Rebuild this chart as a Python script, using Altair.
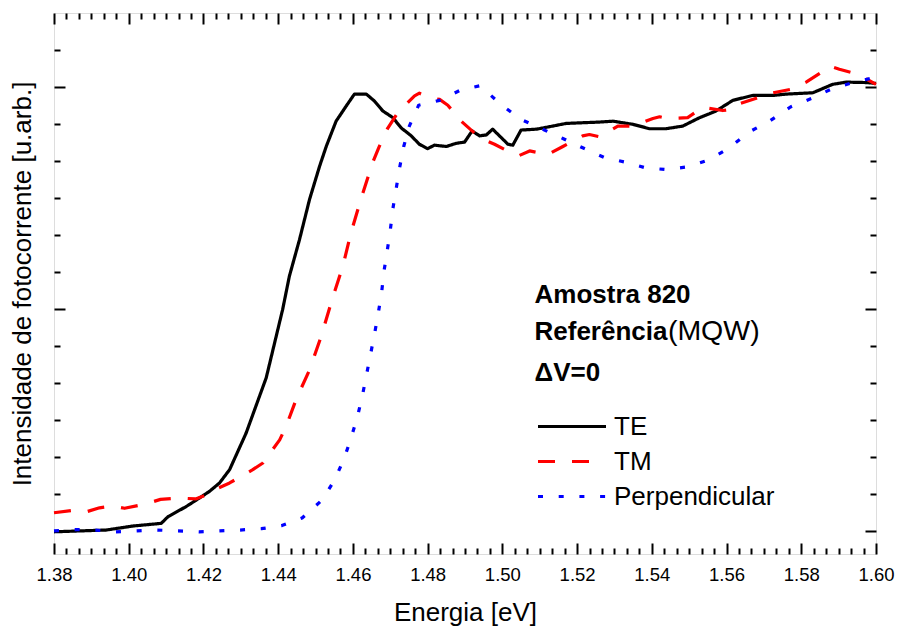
import altair as alt
import pandas as pd

# ---------------- data ----------------
series_names = ["TE", "TM", "Perpendicular"]
series_colors = ["#000000", "#ff0000", "#0000ff"]
series_dash = [[1, 0], [17, 17], [5, 15.7]]

te_E = [1.3800, 1.3940, 1.4011, 1.4087, 1.4105, 1.4154, 1.4189, 1.4216, 1.4243, 1.4270,
        1.4314, 1.4368, 1.4412, 1.4430, 1.4457, 1.4484, 1.4511, 1.4529, 1.4555, 1.4582,
        1.4604, 1.4636, 1.4658, 1.4680, 1.4707, 1.4729, 1.4756, 1.4778, 1.4800, 1.4818,
        1.4850, 1.4876, 1.4899, 1.4919, 1.4939, 1.4957, 1.4974, 1.4997, 1.5015, 1.5028,
        1.5050, 1.5091, 1.5135, 1.5171, 1.5260, 1.5296, 1.5349, 1.5394, 1.5438, 1.5483,
        1.5528, 1.5572, 1.5617, 1.5670, 1.5724, 1.5760, 1.5831, 1.5884, 1.5920, 1.5974,
        1.6000]
te_I = [-0.002, 0.002, 0.011, 0.017, 0.032, 0.055, 0.074, 0.089, 0.108, 0.138,
        0.220, 0.345, 0.499, 0.574, 0.656, 0.747, 0.822, 0.867, 0.923, 0.957,
        0.984, 0.984, 0.968, 0.946, 0.931, 0.908, 0.890, 0.871, 0.861, 0.869,
        0.866, 0.873, 0.876, 0.901, 0.890, 0.892, 0.905, 0.886, 0.871, 0.869,
        0.903, 0.905, 0.912, 0.918, 0.921, 0.923, 0.916, 0.906, 0.906, 0.912,
        0.931, 0.946, 0.970, 0.981, 0.981, 0.984, 0.987, 1.006, 1.011, 1.010,
        1.008]

tm_E = [1.3800, 1.3859, 1.3890, 1.3922, 1.3957, 1.3989, 1.4047, 1.4085, 1.4136, 1.4179,
        1.4207, 1.4230, 1.4270, 1.4332, 1.4359, 1.4404, 1.4421, 1.4448, 1.4484, 1.4515,
        1.4546, 1.4573, 1.4595, 1.4622, 1.4653, 1.4669, 1.4693, 1.4720, 1.4765, 1.4778,
        1.4805, 1.4832, 1.4854, 1.4890, 1.4939, 1.4979, 1.5032, 1.5046, 1.5073, 1.5122,
        1.5162, 1.5215, 1.5233, 1.5260, 1.5309, 1.5349, 1.5403, 1.5421, 1.5443, 1.5496,
        1.5536, 1.5590, 1.5617, 1.5630, 1.5684, 1.5724, 1.5773, 1.5813, 1.5867, 1.5876,
        1.5902, 1.5951, 1.6000]
tm_I = [0.041, 0.047, 0.044, 0.052, 0.056, 0.051, 0.061, 0.071, 0.074, 0.072,
        0.081, 0.093, 0.108, 0.138, 0.153, 0.205, 0.235, 0.296, 0.363, 0.438,
        0.526, 0.596, 0.672, 0.749, 0.830, 0.863, 0.907, 0.942, 0.980, 0.986,
        0.976, 0.972, 0.959, 0.923, 0.886, 0.871, 0.848, 0.846, 0.856, 0.848,
        0.866, 0.890, 0.893, 0.888, 0.912, 0.912, 0.929, 0.933, 0.929, 0.931,
        0.954, 0.947, 0.950, 0.961, 0.976, 0.987, 0.995, 1.011, 1.040, 1.047,
        1.040, 1.029, 1.006]

pp_E = [1.3800, 1.3855, 1.3908, 1.3965, 1.4020, 1.4075, 1.4131, 1.4188, 1.4243, 1.4298,
        1.4355, 1.4410, 1.4464, 1.4518, 1.4551, 1.4576, 1.4595, 1.4612, 1.4625, 1.4636,
        1.4647, 1.4658, 1.4668, 1.4677, 1.4683, 1.4692, 1.4700, 1.4707, 1.4716, 1.4725,
        1.4736, 1.4751, 1.4776, 1.4832, 1.4888, 1.4940, 1.4997, 1.5050, 1.5105, 1.5162,
        1.5215, 1.5273, 1.5327, 1.5383, 1.5438, 1.5495, 1.5550, 1.5606, 1.5661, 1.5715,
        1.5771, 1.5827, 1.5882, 1.5938, 1.6000]
pp_I = [0.000, 0.003, 0.002, -0.002, 0.000, 0.002, 0.000, -0.002, 0.000, 0.002,
        0.005, 0.012, 0.029, 0.070, 0.115, 0.162, 0.209, 0.257, 0.303, 0.350,
        0.397, 0.444, 0.491, 0.538, 0.584, 0.632, 0.677, 0.726, 0.772, 0.818,
        0.866, 0.912, 0.959, 0.970, 0.993, 1.003, 0.960, 0.927, 0.906, 0.884,
        0.863, 0.841, 0.831, 0.818, 0.814, 0.820, 0.835, 0.862, 0.899, 0.923,
        0.955, 0.974, 0.996, 1.010, 1.022]

x_major = [1.38, 1.40, 1.42, 1.44, 1.46, 1.48, 1.50, 1.52, 1.54, 1.56, 1.58, 1.60]
y_major = [0.0, 0.5, 1.0]

# annotation block
ann_bold_text = ["Amostra 820", "Referência", "ΔV=0"]
ann_bold_E = [1.5086, 1.5086, 1.5086]
ann_bold_I = [0.514, 0.429, 0.337]
ann_norm_text = ["(MQW)"]
ann_norm_E = [1.5443]
ann_norm_I = [0.429]

# ---------------- build ----------------
rows = []
for name, es, vs in zip(series_names, [te_E, tm_E, pp_E], [te_I, tm_I, pp_I]):
    assert len(es) == len(vs), name
    for e, v in zip(es, vs):
        rows.append({"Energia": e, "Intensidade": v, "Serie": name})
df = pd.DataFrame(rows)

x_minor = [round(1.38 + i * 0.02 / 6, 6) for i in range(67) if i % 6]
y_minor = [round(i / 12, 6) for i in range(1, 14) if i % 6]

W, H = 822, 541
FONT = "Liberation Sans"

xscale = alt.Scale(domain=[1.38, 1.60], nice=False, zero=False)
yscale = alt.Scale(domain=[-0.052, 1.1667], nice=False, zero=False)


def tick_axis(orient, values, size, offset):
    return alt.Axis(orient=orient, values=values, tickSize=size, tickWidth=2,
                    tickColor="black", labels=False, domain=False, grid=False,
                    title=None, offset=offset)


legend = alt.Legend(title=None, orient="none", legendX=482, legendY=396,
                    symbolType="stroke", symbolSize=4624, symbolStrokeWidth=3.2,
                    labelFontSize=26, labelFont=FONT, labelColor="black",
                    labelOffset=6, labelLimit=400, clipHeight=35, rowPadding=0,
                    padding=0)

x_lab_axis = alt.Axis(orient="bottom", values=x_major, format=".2f", labelFontSize=18.5,
                      labelFont=FONT, labelColor="black", ticks=False, tickSize=0,
                      domain=False, grid=False, labelPadding=11, labelFlush=False,
                      labelOverlap=False, title="Energia [eV]", titleFontSize=26,
                      titleFont=FONT, titleFontWeight="normal", titleColor="black",
                      titlePadding=16)
y_tit_axis = alt.Axis(orient="left", labels=False, ticks=False, tickSize=0, domain=False,
                      grid=False, title="Intensidade de fotocorrente [u.arb.]",
                      titleFontSize=26, titleFont=FONT, titleFontWeight="normal",
                      titleColor="black", titlePadding=19)

base = alt.Chart(df)

lines = base.mark_line(strokeWidth=3.2, strokeCap="butt", strokeJoin="round").encode(
    x=alt.X("Energia:Q", scale=xscale, axis=x_lab_axis),
    y=alt.Y("Intensidade:Q", scale=yscale, axis=y_tit_axis),
    color=alt.Color("Serie:N", scale=alt.Scale(domain=series_names, range=series_colors),
                    sort=series_names, legend=legend),
    strokeDash=alt.StrokeDash("Serie:N", scale=alt.Scale(domain=series_names, range=series_dash),
                              sort=series_names, legend=legend),
)


def ghost(xaxis, yaxis):
    return base.mark_point(opacity=0, size=1).encode(
        x=alt.X("Energia:Q", scale=xscale, axis=xaxis),
        y=alt.Y("Intensidade:Q", scale=yscale, axis=yaxis),
    )


g1 = ghost(tick_axis("top", x_major, 11, -H), tick_axis("right", y_major, 11, -W))
g2 = ghost(tick_axis("top", x_minor, 6, -H), tick_axis("right", y_minor, 6, -W))
g3 = ghost(tick_axis("bottom", x_major, 11, -H), tick_axis("left", y_major, 11, -W))
g4 = ghost(tick_axis("bottom", x_minor, 6, -H), tick_axis("left", y_minor, 6, -W))

ann_b = alt.Chart(pd.DataFrame({"t": ann_bold_text, "E": ann_bold_E, "I": ann_bold_I})).mark_text(
    align="left", baseline="alphabetic", fontSize=26, fontWeight="bold", font=FONT, color="black"
).encode(
    x=alt.X("E:Q", scale=xscale, axis=None),
    y=alt.Y("I:Q", scale=yscale, axis=None),
    text="t:N",
)
ann_n = alt.Chart(pd.DataFrame({"t": ann_norm_text, "E": ann_norm_E, "I": ann_norm_I})).mark_text(
    align="left", baseline="alphabetic", fontSize=28.5, fontWeight="normal", font=FONT, color="black"
).encode(
    x=alt.X("E:Q", scale=xscale, axis=None),
    y=alt.Y("I:Q", scale=yscale, axis=None),
    text="t:N",
)

chart = alt.layer(lines, g1, g2, g3, g4, ann_b, ann_n).resolve_axis(
    x="independent", y="independent"
).properties(
    width=W, height=H,
    autosize=alt.AutoSizeParams(type="none"),
    padding={"left": 54, "top": 13, "right": 22, "bottom": 74},
    background="white",
).configure_view(stroke="black", strokeWidth=2).configure(font=FONT)

chart.save("out.html", embed_options={"renderer": "svg", "actions": False})
